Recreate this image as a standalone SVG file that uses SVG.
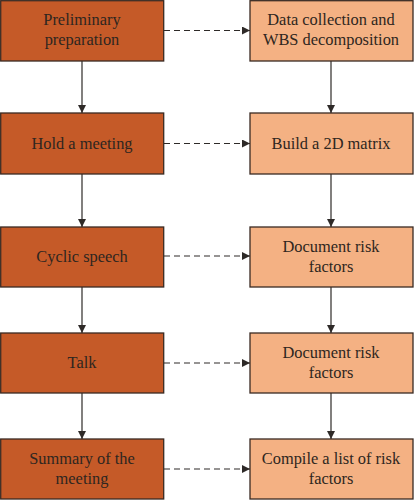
<svg xmlns="http://www.w3.org/2000/svg" width="414" height="500" viewBox="0 0 414 500">
<defs>
<marker id="ah" viewBox="0 0 10 10" refX="10" refY="5" markerWidth="8" markerHeight="8" markerUnits="userSpaceOnUse" orient="auto">
<path d="M0,0 L10,5 L0,10 Z" fill="#2e2a28"/>
</marker>
<style>
.l{fill:#C55A28;stroke:#3a2a22;stroke-width:1.3}
.r{fill:#F4B183;stroke:#3a2a22;stroke-width:1.3}
.t{font-family:'Liberation Serif',serif;font-size:16.4px;fill:#2e2620;text-anchor:middle}
.s{stroke:#2e2a28;stroke-width:1.2;fill:none;marker-end:url(#ah)}
.d{stroke:#2e2a28;stroke-width:1.2;fill:none;stroke-dasharray:6,4;marker-end:url(#ah)}
</style>
</defs>
<rect width="414" height="500" fill="#fff"/>
<g id="connectors">
<line class="s" x1="82" y1="61" x2="82" y2="113"/>
<line class="s" x1="82" y1="174" x2="82" y2="227"/>
<line class="s" x1="82" y1="287" x2="82" y2="333"/>
<line class="s" x1="82" y1="393" x2="82" y2="439"/>
<line class="s" x1="331" y1="61" x2="331" y2="113"/>
<line class="s" x1="331" y1="174" x2="331" y2="227"/>
<line class="s" x1="331" y1="287" x2="331" y2="333"/>
<line class="s" x1="331" y1="393" x2="331" y2="439"/>
<line class="d" x1="164" y1="30.5" x2="250" y2="30.5"/>
<line class="d" x1="164" y1="143.5" x2="250" y2="143.5"/>
<line class="d" x1="164" y1="256" x2="250" y2="256"/>
<line class="d" x1="164" y1="363" x2="250" y2="363"/>
<line class="d" x1="164" y1="469" x2="250" y2="469"/>
</g>
<g font-family="Liberation Serif, serif">
<g id="n1"><rect class="l" x="0.7" y="0.7" width="163" height="60.3"/><text class="t" x="82" y="25">Preliminary</text><text class="t" x="82" y="45">preparation</text></g>
<g id="n2"><rect class="l" x="0.7" y="113" width="163" height="61"/><text class="t" x="82" y="149">Hold a meeting</text></g>
<g id="n3"><rect class="l" x="0.7" y="227" width="163" height="60"/><text class="t" x="82" y="262">Cyclic speech</text></g>
<g id="n4"><rect class="l" x="0.7" y="333" width="163" height="60"/><text class="t" x="82" y="368">Talk</text></g>
<g id="n5"><rect class="l" x="0.7" y="439" width="163" height="60"/><text class="t" x="82" y="464">Summary of the</text><text class="t" x="82" y="484">meeting</text></g>
<g id="n6"><rect class="r" x="250" y="0.7" width="163" height="60.3"/><text class="t" x="331" y="25">Data collection and</text><text class="t" x="331" y="45">WBS decomposition</text></g>
<g id="n7"><rect class="r" x="250" y="113" width="163" height="61"/><text class="t" x="331" y="149">Build a 2D matrix</text></g>
<g id="n8"><rect class="r" x="250" y="227" width="163" height="60"/><text class="t" x="331" y="252">Document risk</text><text class="t" x="331" y="272">factors</text></g>
<g id="n9"><rect class="r" x="250" y="333" width="163" height="60"/><text class="t" x="331" y="358">Document risk</text><text class="t" x="331" y="378">factors</text></g>
<g id="n10"><rect class="r" x="250" y="439" width="163" height="60"/><text class="t" x="331" y="464">Compile a list of risk</text><text class="t" x="331" y="484">factors</text></g>
</g>
</svg>
